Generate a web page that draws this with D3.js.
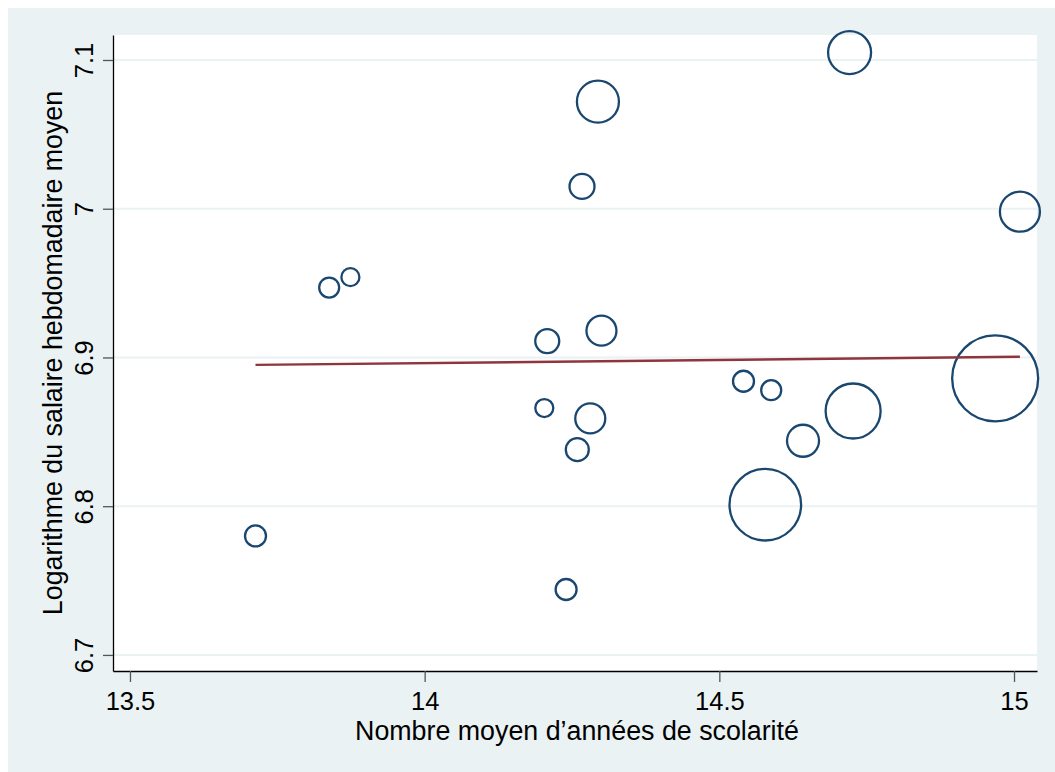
<!DOCTYPE html>
<html>
<head>
<meta charset="utf-8">
<script src="https://cdn.jsdelivr.net/npm/d3@7"></script>
<style>
  body { margin: 0; background: #fff; }
  text { font-family: "Liberation Sans", Arial, sans-serif; }
</style>
</head>
<body>
<div id="container"></div>
<script>
/* DATA */
// nombre moyen d'années de scolarité (x), log du salaire hebdo moyen (y), poids des bulles
const scolarite = [13.713, 13.838, 13.874, 14.208, 14.203, 14.240, 14.259, 14.267, 14.281, 14.294,
  14.300, 14.541, 14.588, 14.578, 14.642, 14.721, 14.727, 14.968, 15.010]
const logSalaire = [6.780, 6.947, 6.954, 6.911, 6.866, 6.744, 6.838, 7.015, 6.859, 7.072,
  6.918, 6.884, 6.878, 6.801, 6.844, 7.105, 6.864, 6.886, 6.998]
const poids = [110, 100, 81, 144, 81, 110, 132, 156, 225, 441,
  225, 110, 100, 1282, 256, 462, 756, 1849, 400]

// droite d'ajustement (lfit)
const ajustX = [13.713, 15.010]
const ajustY = [6.8950, 6.9005]

const xTicks = [13.5, 14, 14.5, 15]
const yTicks = [6.7, 6.8, 6.9, 7, 7.1]

/* CONSTANTS */
const width = 1055,
  height = 772,
  margin = { top: 35, right: 18, bottom: 101, left: 113 }

const navy = '#1a476f'
const maroon = '#90353b'
const bg = '#eaf2f3'

const svg = d3.select('#container')
  .append('svg')
  .attr('width', width)
  .attr('height', height)

// fond gris-bleu du graphique
svg.append('rect')
  .attr('x', 8).attr('y', 8)
  .attr('width', width - 8).attr('height', height - 8)
  .attr('fill', bg)

// zone du tracé
svg.append('rect')
  .attr('x', margin.left).attr('y', margin.top)
  .attr('width', width - margin.left - margin.right)
  .attr('height', height - margin.top - margin.bottom)
  .attr('fill', '#fff')

/* SCALES */
const xScale = d3.scaleLinear()
  .domain([13.4712, 15.039])
  .range([margin.left, width - margin.right])

const yScale = d3.scaleLinear()
  .domain([6.6892, 7.1168])
  .range([height - margin.bottom, margin.top])

const rScale = d3.scaleSqrt()
  .domain([0, d3.max(poids)])
  .range([0, 43])

// gridlines
svg.append('g')
  .selectAll('line')
  .data(yTicks)
  .join('line')
  .attr('x1', margin.left)
  .attr('x2', width - margin.right)
  .attr('y1', d => yScale(d))
  .attr('y2', d => yScale(d))
  .attr('stroke', bg)
  .attr('stroke-width', 2)

/* AXES */
const fmt = d3.format('~g')

const xAxisGroup = svg.append('g')
  .attr('transform', `translate(0, ${height - margin.bottom})`)
  .call(d3.axisBottom(xScale).tickValues(xTicks).tickFormat(fmt).tickSize(11).tickSizeOuter(0).tickPadding(6))

const yAxisGroup = svg.append('g')
  .attr('transform', `translate(${margin.left}, 0)`)
  .call(d3.axisLeft(yScale).tickValues(yTicks).tickFormat(fmt).tickSize(10).tickSizeOuter(0))

xAxisGroup.select('.domain').attr('stroke', '#000').attr('stroke-width', 1.3)
yAxisGroup.select('.domain').attr('stroke', '#000').attr('stroke-width', 1.3)
svg.selectAll('.tick line').attr('stroke', '#555').attr('stroke-width', 1.3)

xAxisGroup.selectAll('.tick text')
  .attr('y', 0)
  .attr('dy', 0)
  .attr('transform', 'translate(0, 39)')
  .attr('font-size', 25.5)
  .attr('font-family', '"Liberation Sans", Arial, sans-serif')
  .attr('fill', '#000')

yAxisGroup.selectAll('.tick text')
  .attr('x', 0)
  .attr('y', -20)
  .attr('dy', 0)
  .attr('text-anchor', 'middle')
  .attr('transform', 'rotate(-90)')
  .attr('font-size', 25.5)
  .attr('font-family', '"Liberation Sans", Arial, sans-serif')
  .attr('fill', '#000')

// axis titles
svg.append('text')
  .attr('x', (margin.left + width - margin.right) / 2 + 2)
  .attr('y', 740)
  .attr('text-anchor', 'middle')
  .attr('font-size', 26.8)
  .attr('fill', '#000')
  .text('Nombre moyen d’années de scolarité')

svg.append('text')
  .attr('transform', `translate(62, ${(margin.top + height - margin.bottom) / 2}) rotate(-90)`)
  .attr('text-anchor', 'middle')
  .attr('font-size', 26.8)
  .attr('fill', '#000')
  .text('Logarithme du salaire hebdomadaire moyen')

/* BUBBLES */
const points = scolarite.map((x, i) => ({ x: x, y: logSalaire[i], w: poids[i] }))

svg.append('g')
  .selectAll('circle')
  .data(points)
  .join('circle')
  .attr('cx', d => xScale(d.x))
  .attr('cy', d => yScale(d.y))
  .attr('r', d => rScale(d.w))
  .attr('fill', 'none')
  .attr('stroke', navy)
  .attr('stroke-width', 2.3)

/* FIT LINE */
const line = d3.line()
  .x(d => xScale(d[0]))
  .y(d => yScale(d[1]))

svg.append('path')
  .datum(ajustX.map((x, i) => [x, ajustY[i]]))
  .attr('stroke', maroon)
  .attr('stroke-width', 2.4)
  .attr('fill', 'none')
  .attr('d', line)
</script>
</body>
</html>
